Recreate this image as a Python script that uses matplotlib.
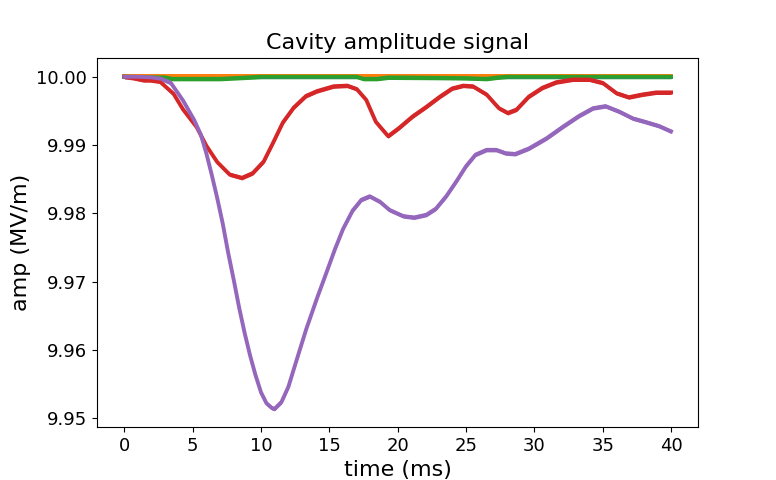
import matplotlib
matplotlib.use("Agg")
import matplotlib.pyplot as plt
import numpy as np

# ---- data ----
t_blue = [0.0, 10.0, 20.0, 30.0, 40.0]
amp_blue = [10.0000, 10.0000, 10.0000, 10.0000, 10.0000]

t_orange = [0.0, 10.0, 20.0, 30.0, 40.0]
amp_orange = [10.00007, 10.00007, 10.00007, 10.00007, 10.00007]

t_green = [0.0, 3.0, 3.5, 7.0, 8.0, 10.0, 17.0, 17.5, 18.5, 19.3, 23.0, 25.0,
           26.5, 27.3, 28.0, 40.0]
amp_green = [10.0000, 9.9999, 9.9997, 9.9997, 9.9998, 10.0000, 10.0000, 9.9997,
             9.9997, 9.9999, 9.99985, 9.9998, 9.9997, 9.9999, 10.0000, 10.0000]

t_red = [0.0, 0.7, 1.4, 1.9, 2.6, 3.1, 3.6, 4.3, 5.3, 6.0, 6.8, 7.7, 8.6, 9.4,
         10.2, 10.9, 11.6, 12.4, 13.3, 14.1, 15.3, 16.3, 17.0, 17.7, 18.4, 19.3,
         20.1, 21.1, 22.1, 23.1, 24.0, 24.8, 25.5, 26.5, 27.4, 28.05, 28.7, 29.6,
         30.6, 31.6, 32.8, 34.0, 35.0, 36.0, 36.9, 37.9, 38.9, 40.0]
amp_red = [10.0000, 9.9998, 9.9995, 9.9995, 9.9993, 9.9984, 9.9975, 9.9952,
           9.9926, 9.9899, 9.9875, 9.9857, 9.9852, 9.9859, 9.9876, 9.9904,
           9.9933, 9.9955, 9.9972, 9.9979, 9.9986, 9.9987, 9.9982, 9.9966,
           9.9934, 9.9913, 9.9925, 9.9942, 9.9956, 9.9971, 9.9983, 9.9987,
           9.9986, 9.9974, 9.9954, 9.9947, 9.9952, 9.9971, 9.9984, 9.9992,
           9.9996, 9.9996, 9.9991, 9.9976, 9.9970, 9.9974, 9.9977, 9.9977]

t_purple = [0.0, 1.0, 2.0, 2.7, 3.4, 4.3, 5.1, 5.6, 6.0, 6.4, 6.8, 7.2, 7.6,
            8.0, 8.4, 8.8, 9.2, 9.6, 10.0, 10.4, 10.8, 11.0, 11.5, 12.0, 12.6,
            13.3, 14.1, 14.8, 15.4, 16.0, 16.7, 17.35, 17.95, 18.7, 19.4, 20.4,
            21.2, 22.1, 22.8, 23.55, 24.3, 25.0, 25.7, 26.5, 27.2, 27.9, 28.6,
            29.6, 30.9, 32.1, 33.3, 34.3, 35.2, 36.2, 37.2, 38.1, 39.1, 40.0]
amp_purple = [10.0000, 10.0000, 9.9999, 9.9997, 9.9991, 9.9965, 9.9937, 9.9915,
              9.9888, 9.9856, 9.9822, 9.9785, 9.9742, 9.9703, 9.9662, 9.9625,
              9.9592, 9.9563, 9.9538, 9.9522, 9.9515, 9.9514, 9.9524, 9.9546,
              9.9585, 9.9630, 9.9676, 9.9714, 9.9747, 9.9777, 9.9804, 9.9820,
              9.9825, 9.9817, 9.9805, 9.9796, 9.9794, 9.9798, 9.9807, 9.9825,
              9.9847, 9.9869, 9.9886, 9.9893, 9.9893, 9.9888, 9.9887, 9.9895,
              9.9910, 9.9927, 9.9943, 9.9954, 9.9957, 9.9949, 9.9939, 9.9934,
              9.9928, 9.9920]

series = [
    (t_blue, amp_blue, "#1f77b4"),
    (t_orange, amp_orange, "#ff7f0e"),
    (t_green, amp_green, "#2ca02c"),
    (t_red, amp_red, "#d62728"),
    (t_purple, amp_purple, "#9467bd"),
]

fig, ax = plt.subplots(figsize=(7.76, 4.8), dpi=100)
noise = 0.0003
for t, a, c in series:
    t = np.asarray(t)
    a = np.asarray(a)
    ax.fill_between(t, a - noise, a + noise, color=c, linewidth=0)
    ax.plot(t, a, color=c, linewidth=2.8, solid_joinstyle="round")

ax.set_title("Cavity amplitude signal", fontsize=16)
ax.set_xlabel("time (ms)", fontsize=16)
ax.set_ylabel("amp (MV/m)", fontsize=16)
ax.tick_params(labelsize=13)
ax.set_xticks([0, 5, 10, 15, 20, 25, 30, 35, 40])
ax.set_yticks([9.95, 9.96, 9.97, 9.98, 9.99, 10.00])
ax.yaxis.set_major_formatter(matplotlib.ticker.FormatStrFormatter("%.2f"))
ax.set_xlim(-2, 42)
ax.set_ylim(9.9487, 10.0028)

fig.savefig("out.png", dpi=100)
